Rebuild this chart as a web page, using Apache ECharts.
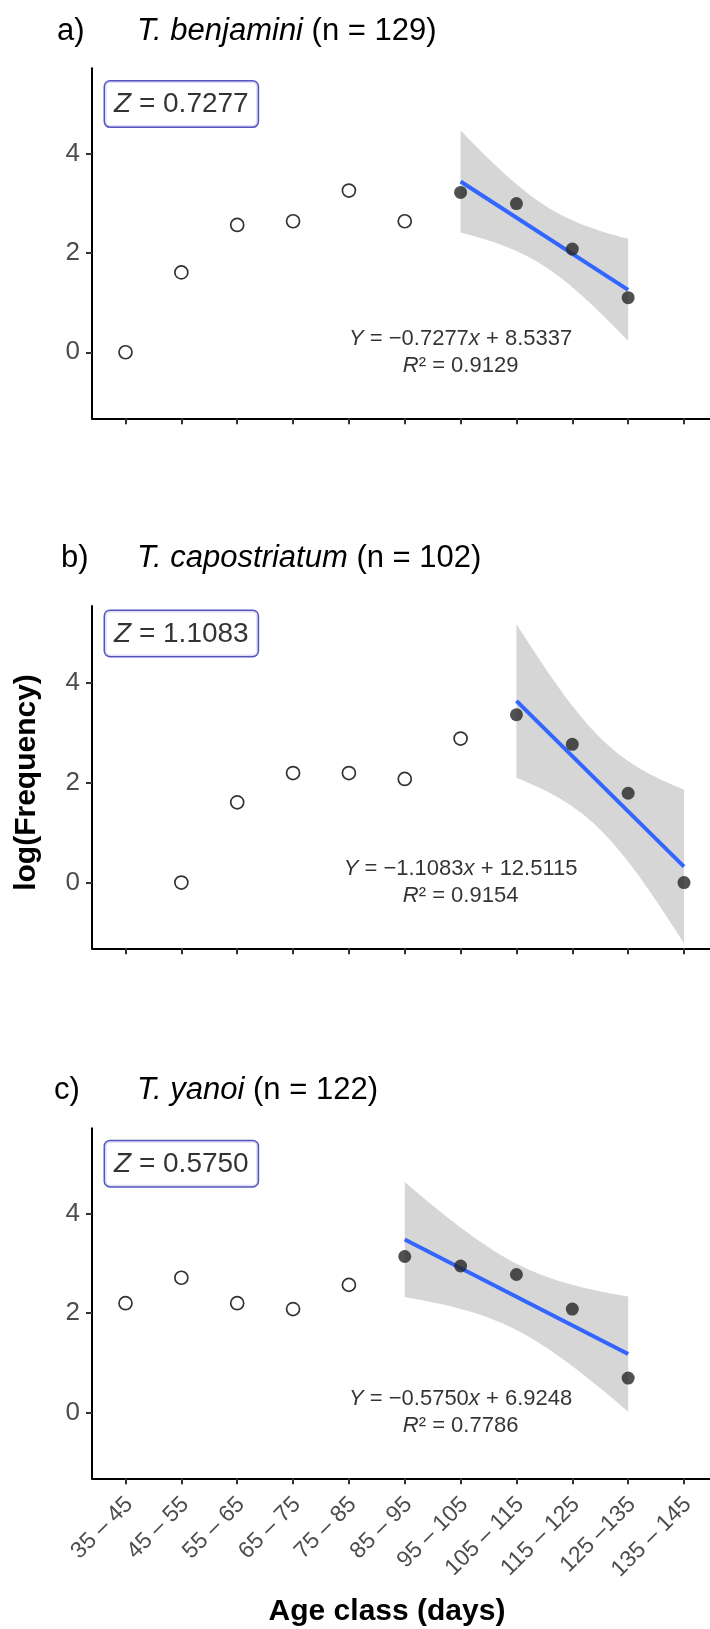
<!DOCTYPE html>
<html><head><meta charset="utf-8">
<script src="https://cdn.jsdelivr.net/npm/echarts@6/dist/echarts.min.js"></script>
<style>html,body{margin:0;padding:0;background:#fff}#c{width:710px;height:1629px}</style>
</head><body><div id="c"></div>
<script>
// ---- data ----
const categories = ['35 – 45','45 – 55','55 – 65','65 – 75','75 – 85','85 – 95','95 – 105','105 – 115','115 – 125','125 –135','135 – 145'];
const panelLetters = ['a)','b)','c)'];
const speciesNames = ['T. benjamini','T. capostriatum','T. yanoi'];
const sampleSizes = ['129','102','122'];
const logFreqA = [0, 1.609, 2.565, 2.639, 3.258, 2.639, 3.219, 2.996, 2.079, 1.099, null];
const logFreqB = [null, 0, 1.609, 2.197, 2.197, 2.079, 2.890, 3.367, 2.773, 1.792, 0];
const logFreqC = [2.197, 2.708, 2.197, 2.079, 2.565, 3.135, 2.944, 2.773, 2.079, 0.693, null];
const fitFirst = [7, 8, 6];   // first age class (1-based) of the descending limb
const fitLast = [10, 11, 10];
const zValues = ['0.7277','1.1083','0.5750'];
const slopeText = ['−0.7277','−1.1083','−0.5750'];
const interceptText = ['8.5337','12.5115','6.9248'];
const r2Text = ['0.9129','0.9154','0.7786'];
const yTicks = [0, 2, 4];
const yRanges = [[-1.33, 5.72], [-1.32, 5.55], [-1.32, 5.71]];

// ---- layout ----
const FONT = '"Liberation Sans", Arial, Helvetica, sans-serif';
const grids = [
  {left: 92, top: 68.3, width: 625.5, height: 350},
  {left: 92, top: 606, width: 625.5, height: 342.3},
  {left: 92, top: 1128.3, width: 625.5, height: 350}
];
const titleY = [31, 558.5, 1090];
const letterX = [57, 61, 54];
const series = [logFreqA, logFreqB, logFreqC];
const tQuant = {2: 4.302653, 3: 3.182446};

function fitBand(vals, a, b) {
  const xs = [], ys = [];
  for (let k = a; k <= b; k++) { if (vals[k-1] != null) { xs.push(k); ys.push(vals[k-1]); } }
  const n = xs.length;
  const mx = xs.reduce((s,v)=>s+v,0)/n, my = ys.reduce((s,v)=>s+v,0)/n;
  let sxx = 0, sxy = 0;
  xs.forEach((x,i)=>{ sxx += (x-mx)*(x-mx); sxy += (x-mx)*(ys[i]-my); });
  const slope = sxy/sxx, icp = my - slope*mx;
  let sse = 0; xs.forEach((x,i)=>{ const r = ys[i]-(icp+slope*x); sse += r*r; });
  const s = Math.sqrt(sse/(n-2)), t = tQuant[n-2];
  const band = [];
  const steps = 60;
  for (let j = 0; j <= steps; j++) {
    const x = a + (b-a)*j/steps;
    const se = s*Math.sqrt(1/n + (x-mx)*(x-mx)/sxx);
    const yh = icp + slope*x;
    band.push([x, yh - t*se, yh + t*se]);
  }
  return {slope, icp, band, a, b};
}

const chart = echarts.init(document.getElementById('c'), null, {renderer: 'canvas'});
const tickVals = categories.map((c,i)=>i+1);
const opt = {
  backgroundColor: '#fff',
  animation: false,
  grid: grids.map(g => Object.assign({containLabel: false, outerBoundsMode: 'none'}, g)),
  xAxis: [], yAxis: [], series: [], graphic: []
};

for (let p = 0; p < 3; p++) {
  const isBottom = p === 2;
  opt.xAxis.push({
    type: 'value', gridIndex: p, min: 0.4, max: 11.6,
    axisLine: {show: true, onZero: false, lineStyle: {color: '#000', width: 2}},
    axisTick: {show: true, customValues: tickVals, length: 6, lineStyle: {color: '#333', width: 2}},
    axisLabel: isBottom ? {
      show: true, customValues: tickVals, formatter: v => categories[Math.round(v)-1] || '',
      rotate: 45, align: 'right', verticalAlign: 'top', margin: 6, padding: [3, 9, 0, 0],
      fontSize: 23, color: '#4d4d4d', fontFamily: FONT
    } : {show: false},
    splitLine: {show: false}
  });
  opt.yAxis.push({
    type: 'value', gridIndex: p, min: yRanges[p][0], max: yRanges[p][1],
    axisLine: {show: true, onZero: false, lineStyle: {color: '#000', width: 2}},
    axisTick: {show: true, customValues: yTicks, length: 6, lineStyle: {color: '#333', width: 2}},
    axisLabel: {show: true, customValues: yTicks, margin: 12, fontSize: 26, color: '#4d4d4d', fontFamily: FONT},
    splitLine: {show: false}
  });

  const vals = series[p];
  const fit = fitBand(vals, fitFirst[p], fitLast[p]);

  opt.series.push({
    type: 'custom', xAxisIndex: p, yAxisIndex: p, silent: true, z: 1,
    data: fit.band, encode: {x: 0, y: [1, 2]},
    renderItem: (params, api) => {
      if (params.dataIndex !== 0) return null;
      const pts = [];
      fit.band.forEach(b => pts.push(api.coord([b[0], b[2]])));
      for (let k = fit.band.length - 1; k >= 0; k--) pts.push(api.coord([fit.band[k][0], fit.band[k][1]]));
      return {type: 'polygon', shape: {points: pts}, style: {fill: '#d6d6d6'}};
    }
  });
  opt.series.push({
    type: 'line', xAxisIndex: p, yAxisIndex: p, silent: true, z: 2, symbol: 'none',
    data: [[fit.a, fit.icp + fit.slope*fit.a], [fit.b, fit.icp + fit.slope*fit.b]],
    lineStyle: {color: '#3366FF', width: 4}
  });
  const openPts = [], filledPts = [];
  vals.forEach((v,i) => {
    if (v == null) return;
    const x = i + 1;
    if (x >= fitFirst[p] && x <= fitLast[p]) filledPts.push([x, v]); else openPts.push([x, v]);
  });
  opt.series.push({
    type: 'scatter', xAxisIndex: p, yAxisIndex: p, silent: true, z: 3,
    symbol: 'circle', symbolSize: 13, data: openPts,
    itemStyle: {color: '#fff', borderColor: '#000', borderWidth: 1.7}
  });
  opt.series.push({
    type: 'scatter', xAxisIndex: p, yAxisIndex: p, silent: true, z: 3,
    symbol: 'circle', symbolSize: 13, data: filledPts,
    itemStyle: {color: '#262626'}
  });
  // equation label at (7, 0)
  opt.series.push({
    type: 'scatter', xAxisIndex: p, yAxisIndex: p, silent: true, z: 4,
    symbolSize: 1, itemStyle: {color: 'rgba(0,0,0,0)'}, data: [[7, 0]],
    label: {
      show: true, position: 'inside', align: 'center', verticalAlign: 'middle',
      fontSize: 22, lineHeight: 27, color: '#000', fontFamily: FONT,
      formatter: '{i|Y} = ' + slopeText[p] + '{i|x} + ' + interceptText[p] + '\n{i|R}² = ' + r2Text[p],
      rich: {i: {fontStyle: 'italic', fontSize: 22, lineHeight: 27, color: '#000', fontFamily: FONT}}
    }
  });
  // Z label box at (2, 5)
  opt.series.push({
    type: 'scatter', xAxisIndex: p, yAxisIndex: p, silent: true, z: 5,
    symbolSize: 1, itemStyle: {color: 'rgba(0,0,0,0)'}, data: [[2, 5]],
    label: {
      show: true, position: 'inside', align: 'center', verticalAlign: 'middle',
      fontSize: 28, lineHeight: 30, color: '#000', fontFamily: FONT,
      backgroundColor: '#fff', borderColor: '#2b2bb3', borderWidth: 1.5, borderRadius: 5,
      padding: [8, 9, 7, 9],
      formatter: '{i|Z} = ' + zValues[p],
      rich: {i: {fontStyle: 'italic', fontSize: 28, lineHeight: 30, color: '#000', fontFamily: FONT}}
    }
  });

  // panel titles
  opt.graphic.push({
    type: 'text', x: letterX[p], y: titleY[p], silent: true,
    style: {text: panelLetters[p], fontSize: 31, fontFamily: FONT, fill: '#000', verticalAlign: 'middle', align: 'left'}
  });
  opt.graphic.push({
    type: 'text', x: 137, y: titleY[p], silent: true,
    style: {
      text: '{i|' + speciesNames[p] + '} (n = ' + sampleSizes[p] + ')',
      fontSize: 31, fontFamily: FONT, fill: '#000', verticalAlign: 'middle', align: 'left',
      rich: {i: {fontStyle: 'italic', fontSize: 31, fontFamily: FONT, fill: '#000'}}
    }
  });
}
opt.graphic.push({
  type: 'text', x: 26.7, y: 782.5, rotation: Math.PI/2, silent: true,
  style: {text: 'log(Frequency)', fontSize: 30, fontWeight: 'bold', fontFamily: FONT, fill: '#000', align: 'center', verticalAlign: 'middle'}
});
opt.graphic.push({
  type: 'text', x: 387, y: 1612, silent: true,
  style: {text: 'Age class (days)', fontSize: 30, fontWeight: 'bold', fontFamily: FONT, fill: '#000', align: 'center', verticalAlign: 'middle'}
});
chart.setOption(opt);
</script>
</body></html>
